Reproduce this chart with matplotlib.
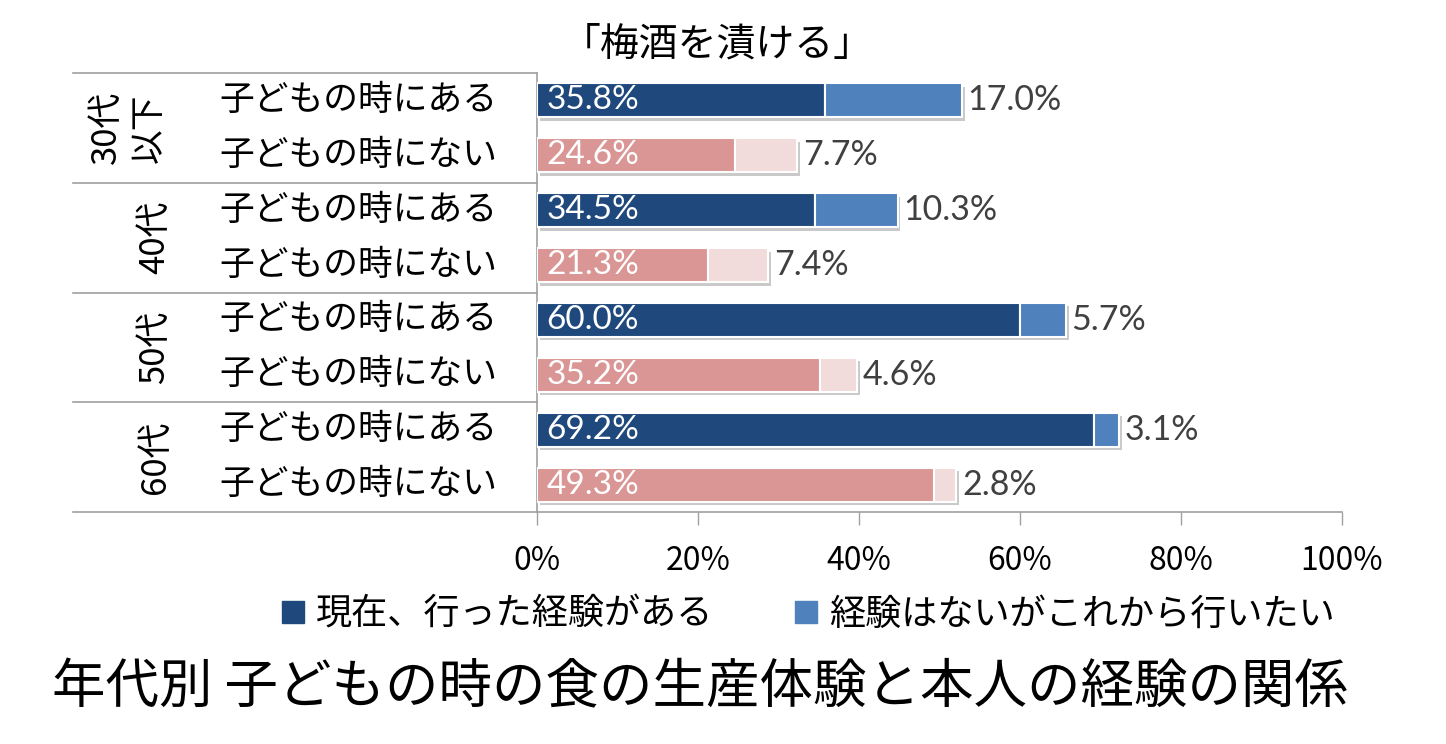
import matplotlib
matplotlib.use("Agg")
import matplotlib.pyplot as plt
import matplotlib.patheffects as pe
from matplotlib.lines import Line2D
import matplotlib.transforms as mtransforms
import numpy as np

plt.rcParams['font.family'] = ['Noto Sans CJK JP', 'DejaVu Sans']

title = "「梅酒を漬ける」"
caption = "年代別 子どもの時の食の生産体験と本人の経験の関係"
groups = ["30代\n以下", "40代", "50代", "60代"]
row_labels = ["子どもの時にある", "子どもの時にない"] * 4
experienced = [35.8, 24.6, 34.5, 21.3, 60.0, 35.2, 69.2, 49.3]
want_to = [17.0, 7.7, 10.3, 7.4, 5.7, 4.6, 3.1, 2.8]
legend_labels = ["現在、行った経験がある", "経験はないがこれから行いたい"]
xticks = [0, 20, 40, 60, 80, 100]

c_navy = "#1F497D"
c_blue = "#4F81BD"
c_pink = "#D99694"
c_lpink = "#F2DCDB"

W, H = 1446, 744
fig = plt.figure(figsize=(W / 100, H / 100), dpi=100)
ax = fig.add_axes([537 / W, 1 - 512 / H, (1342 - 537) / W, (512 - 73) / H])

n = len(experienced)
y = np.arange(n)
c1 = [c_navy if i % 2 == 0 else c_pink for i in range(n)]
c2 = [c_blue if i % 2 == 0 else c_lpink for i in range(n)]
shadow = [pe.SimplePatchShadow(offset=(2, -2.5), shadow_rgbFace="#888888", alpha=0.45), pe.Normal()]

b1 = ax.barh(y, experienced, height=0.62, color=c1, edgecolor="white", linewidth=1.5, zorder=3)
b2 = ax.barh(y, want_to, left=experienced, height=0.62, color=c2, edgecolor="white", linewidth=1.5, zorder=3)
for p in list(b1) + list(b2):
    p.set_path_effects(shadow)

lab_font = ["Lato", "DejaVu Sans"]
for i in range(n):
    ax.text(1.2, y[i], f"{experienced[i]:.1f}%", color="white", fontsize=24,
            family=lab_font, va="center", ha="left", zorder=4)
    ax.text(experienced[i] + want_to[i] + 0.7, y[i], f"{want_to[i]:.1f}%", color="#404040",
            fontsize=24.5, family=lab_font, va="center", ha="left", zorder=4)

ax.set_xlim(0, 100)
ax.set_ylim(n - 0.5, -0.5)
ax.set_xticks(xticks)
ax.set_xticklabels([f"{t}%" for t in xticks], fontsize=23)
ax.set_yticks([])
ax.tick_params(axis="x", direction="out", length=9.5, width=1, color="#A0A0A0", pad=14)
for s in ["top", "right"]:
    ax.spines[s].set_visible(False)
for s in ["left", "bottom"]:
    ax.spines[s].set_color("#A0A0A0")
    ax.spines[s].set_linewidth(1.2)

# left table
tr = mtransforms.blended_transform_factory(fig.transFigure, ax.transData)
x_left = 73 / W
x_right = 537 / W
for b in [-0.5, 1.5, 3.5, 5.5, 7.5]:
    ax.add_line(Line2D([x_left, x_right], [b, b], transform=tr, color="#A0A0A0",
                       linewidth=1.2, clip_on=False))

ty = mtransforms.blended_transform_factory(ax.transAxes, ax.transData)
for i, lab in enumerate(row_labels):
    ax.text(-40 / 805, y[i], lab, transform=ty, ha="right", va="center", fontsize=25)

for g, lab in enumerate(groups):
    yc = 2 * g + 0.5
    xc = 128 / W if "\n" in lab else 155 / W
    ax.text(xc, yc, lab, transform=tr, rotation=90, ha="center", va="center",
            fontsize=25, linespacing=1.3, multialignment="center")

fig.text(717 / W, 1 - 45 / H, title, ha="center", va="center", fontsize=28)

handles = [Line2D([], [], marker="s", linestyle="", markersize=16, color=c_navy),
           Line2D([], [], marker="s", linestyle="", markersize=16, color=c_blue)]
fig.legend(handles, legend_labels, loc="center", bbox_to_anchor=(807 / W, 1 - 615 / H),
           ncol=2, frameon=False, fontsize=26, handlelength=0.75, handletextpad=0.25,
           columnspacing=2.2, borderpad=0)

fig.text(700 / W, 1 - 688 / H, caption, ha="center", va="center", fontsize=38.5)

fig.savefig("out.png", dpi=100)
